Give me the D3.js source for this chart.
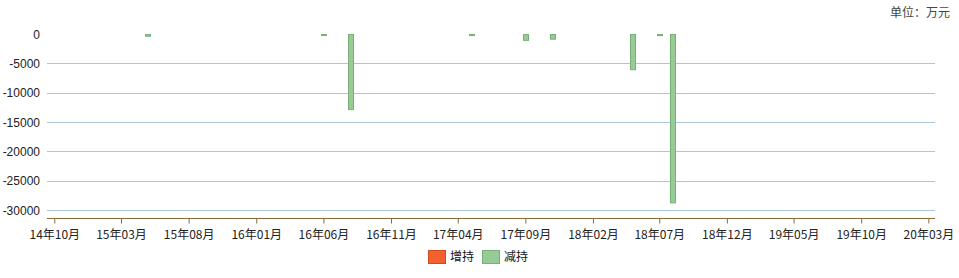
<!DOCTYPE html>
<html>
<head>
<meta charset="utf-8">
<script src="https://cdn.jsdelivr.net/npm/d3@7"></script>
<style>
  html, body { margin: 0; padding: 0; background: #fff; }
  svg { display: block; }
</style>
</head>
<body>
<svg id="chart" width="959" height="278"></svg>
<script>
// Shareholder change events (date, amount in 万元); negative = reduction
const eventDates = ["2015-05-01", "2016-06-01", "2016-08-01", "2017-05-01", "2017-09-01",
                    "2017-11-01", "2018-05-01", "2018-07-01", "2018-08-01"];
const increaseValues = [0, 0, 0, 0, 0, 0, 0, 0, 0];
const decreaseValues = [-300, -150, -12800, -150, -1000, -800, -6000, -200, -28700];
const xTickLabels = ["14年10月", "15年03月", "15年08月", "16年01月", "16年06月", "16年11月", "17年04月",
                     "17年09月", "18年02月", "18年07月", "18年12月", "19年05月", "19年10月", "20年03月"];
const yTickValues = [0, -5000, -10000, -15000, -20000, -25000, -30000];
const legendLabels = ["增持", "减持"];
const unitLabel = "单位：万元";

(function () {
  const svg = d3.select("#chart");
  const plotLeft = 47, plotRight = 935, plotTop = 34, plotBottom = 218;

  const parseDay = d3.timeParse("%Y-%m-%d");
  const parseTick = d3.timeParse("%y年%m月");

  const x = d3.scaleTime()
    .domain([new Date(2014, 8, 14, 12), new Date(2020, 2, 16)])
    .range([plotLeft, plotRight]);
  const y = d3.scaleLinear().domain([-31364, 0]).range([plotBottom, plotTop]);

  // horizontal grid lines
  svg.append("g")
    .selectAll("line")
    .data(yTickValues.filter(v => v !== 0))
    .join("line")
    .attr("x1", plotLeft).attr("x2", plotRight)
    .attr("y1", d => Math.round(y(d)) + 0.5).attr("y2", d => Math.round(y(d)) + 0.5)
    .attr("stroke", "#a9c9d8").attr("stroke-width", 1);

  // y tick labels
  svg.append("g")
    .selectAll("text")
    .data(yTickValues)
    .join("text")
    .attr("x", 40).attr("y", d => y(d) + 0.5)
    .attr("dy", "0.35em")
    .attr("text-anchor", "end")
    .attr("font-family", "Liberation Sans, Arial, sans-serif")
    .attr("font-size", 12)
    .attr("fill", "#222")
    .text(d => d);

  // bars
  const colors = { inc: "#f4602f", incStroke: "#d24a20", dec: "#96cb96", decStroke: "#78b078" };
  const barW = 5;
  const bars = eventDates.map((d, i) => ({ date: parseDay(d), inc: increaseValues[i], dec: decreaseValues[i] }));

  svg.append("g")
    .selectAll("rect")
    .data(bars.filter(b => b.dec !== 0))
    .join("rect")
    .attr("x", d => Math.round(x(d.date) - barW / 2) + 0.5)
    .attr("y", y(0) + 0.5)
    .attr("width", barW)
    .attr("height", d => Math.max(1, y(d.dec) - y(0)))
    .attr("fill", colors.dec)
    .attr("stroke", colors.decStroke)
    .attr("stroke-width", 1);

  svg.append("g")
    .selectAll("rect")
    .data(bars.filter(b => b.inc !== 0))
    .join("rect")
    .attr("x", d => Math.round(x(d.date) - barW / 2) + 0.5)
    .attr("y", d => y(d.inc))
    .attr("width", barW)
    .attr("height", d => y(0) - y(d.inc))
    .attr("fill", colors.inc)
    .attr("stroke", colors.incStroke);

  // x axis
  const xAxis = d3.axisBottom(x)
    .tickValues(xTickLabels.map(t => parseTick(t)))
    .tickFormat(d3.timeFormat("%y年%m月"))
    .tickSize(5)
    .tickPadding(7);

  const gx = svg.append("g")
    .attr("transform", `translate(0,${plotBottom + 0.5})`)
    .call(xAxis);
  gx.select(".domain").attr("stroke", "#8a6a3a").attr("d", `M${plotLeft},0H${plotRight}`);
  gx.selectAll(".tick line").attr("stroke", "#8a6a3a");
  gx.selectAll(".tick text")
    .attr("font-family", "Noto Sans CJK SC, sans-serif")
    .attr("font-size", 12)
    .attr("fill", "#222");

  // legend
  const legend = svg.append("g");
  const legendItems = [
    { label: legendLabels[0], fill: colors.inc, stroke: colors.incStroke, x: 428 },
    { label: legendLabels[1], fill: colors.dec, stroke: colors.decStroke, x: 482 }
  ];
  legendItems.forEach(item => {
    legend.append("rect")
      .attr("x", item.x + 0.5).attr("y", 250.5)
      .attr("width", 17).attr("height", 13)
      .attr("fill", item.fill).attr("stroke", item.stroke);
    legend.append("text")
      .attr("x", item.x + 22).attr("y", 257)
      .attr("dy", "0.35em")
      .attr("font-family", "Noto Sans CJK SC, sans-serif")
      .attr("font-size", 12)
      .attr("fill", "#111")
      .text(item.label);
  });

  // unit note
  svg.append("text")
    .attr("x", 950).attr("y", 13)
    .attr("dy", "0.35em")
    .attr("text-anchor", "end")
    .attr("font-family", "Noto Sans CJK SC, sans-serif")
    .attr("font-size", 12)
    .attr("fill", "#444")
    .text(unitLabel);
})();
</script>
</body>
</html>
